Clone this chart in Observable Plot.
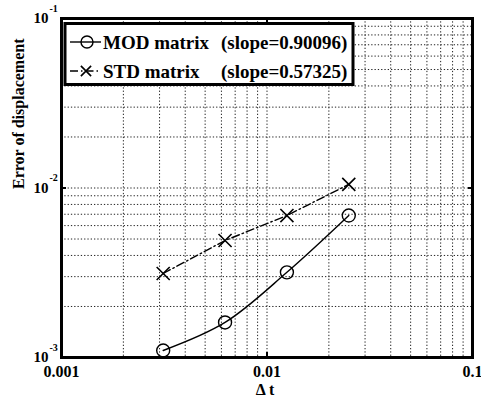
<!DOCTYPE html>
<html>
<head>
<meta charset="utf-8">
<script src="https://cdn.jsdelivr.net/npm/d3@7"></script>
<script src="https://cdn.jsdelivr.net/npm/@observablehq/plot@0.6"></script>
<style>
  html, body { margin: 0; padding: 0; background: #fff; }
  #chart { position: relative; width: 481px; height: 406px; }
  svg text { white-space: pre; }
</style>
</head>
<body>
<div id="chart"></div>
<script>
// ---- data ----
const dt = [0.003125, 0.00625, 0.0125, 0.025];
const modError = [0.00110, 0.00161, 0.00318, 0.00688];
const stdError = [0.00313, 0.00490, 0.00688, 0.01050];
const seriesNames = ["MOD matrix", "STD matrix"];
const seriesSlopes = ["(slope=0.90096)", "(slope=0.57325)"];
const xTicks = [0.001, 0.01, 0.1];
const xTickLabels = ["0.001", "0.01", "0.1"];
const yTicks = [0.001, 0.01, 0.1];
const yTickExps = ["-3", "-2", "-1"];
const xLabel = "\u0394 t";
const yLabel = "Error of displacement";

// log grid positions (1..9 x each decade)
const gridX = [];
[0.001, 0.01].forEach(d => { for (let k = 1; k <= 9; k++) gridX.push(k * d); });
gridX.push(0.1);
const gridY = gridX.slice();

const mod = dt.map((x, i) => ({x, y: modError[i]}));
const std = dt.map((x, i) => ({x, y: stdError[i]}));

const font = "Liberation Serif, Times New Roman, serif";
const dotted = "1.3,2";

const plot = Plot.plot({
  width: 481,
  height: 406,
  marginLeft: 61,
  marginRight: 9,
  marginTop: 18,
  marginBottom: 49,
  style: {fontFamily: font, background: "#fff", overflow: "visible"},
  x: {type: "log", domain: [0.001, 0.1]},
  y: {type: "log", domain: [0.001, 0.1]},
  marks: [
    Plot.ruleX(gridX, {stroke: "#222", strokeWidth: 1, strokeDasharray: dotted}),
    Plot.ruleY(gridY, {stroke: "#222", strokeWidth: 1, strokeDasharray: dotted}),
    // inward ticks
    Plot.axisX({anchor: "bottom", ticks: xTicks, tickSize: -5, strokeWidth: 2, tickFormat: () => "", label: null}),
    Plot.axisX({anchor: "top", ticks: xTicks, tickSize: -5, strokeWidth: 2, tickFormat: () => "", label: null}),
    Plot.axisY({anchor: "left", ticks: yTicks, tickSize: -5, strokeWidth: 2, tickFormat: () => "", label: null}),
    Plot.axisY({anchor: "right", ticks: yTicks, tickSize: -5, strokeWidth: 2, tickFormat: () => "", label: null}),
    Plot.line(mod, {x: "x", y: "y", stroke: "#000", strokeWidth: 1.4, curve: "catmull-rom"}),
    Plot.line(std, {x: "x", y: "y", stroke: "#000", strokeWidth: 1.4, strokeDasharray: "8,3,1.5,3"}),
    Plot.dot(mod, {x: "x", y: "y", r: 6.5, stroke: "#000", strokeWidth: 1.4, fill: "none"}),
    Plot.dot(std, {x: "x", y: "y", r: 6, symbol: "times", stroke: "#000", strokeWidth: 1.6}),
    Plot.frame({stroke: "#000", strokeWidth: 3}),
    // x tick labels
    Plot.text(xTicks, {x: d => d, frameAnchor: "bottom", dy: 19, text: (d, i) => xTickLabels[i],
      fontFamily: font, fontSize: 16, fontWeight: "bold", fill: "#000"}),
    // y tick labels "10" + superscript
    Plot.text(yTicks, {y: d => d, frameAnchor: "left", dx: -13, dy: 0, text: () => "10",
      textAnchor: "end", fontFamily: font, fontSize: 15, fontWeight: "bold", fill: "#000"}),
    Plot.text(yTicks, {y: d => d, frameAnchor: "left", dx: -12, dy: -10, text: (d, i) => yTickExps[i],
      textAnchor: "start", fontFamily: font, fontSize: 10, fontWeight: "bold", fill: "#000"}),
    // axis labels
    Plot.text([xLabel], {frameAnchor: "bottom", dy: 37, dx: -2, text: d => d, fontFamily: font, fontSize: 16, fontWeight: "bold", fill: "#000"}),
    Plot.text([yLabel], {frameAnchor: "left", dx: -43, dy: 1, rotate: -90, text: d => d, fontFamily: font, fontSize: 16, fontWeight: "bold", fill: "#000"})
  ]
});

document.getElementById("chart").appendChild(plot);

// ---- legend (drawn into the same svg) ----
const svg = d3.select(plot);
const lg = svg.append("g").attr("text-anchor", "start");
lg.append("rect").attr("x", 65).attr("y", 23.5).attr("width", 288).attr("height", 61)
  .attr("fill", "#fff").attr("stroke", "#000").attr("stroke-width", 3);
const rows = [
  {y: 42, dash: null, sym: "circle"},
  {y: 71, dash: "8,3,1.5,3", sym: "times"}
];
rows.forEach((r, i) => {
  lg.append("line").attr("x1", 70).attr("x2", 101).attr("y1", r.y).attr("y2", r.y)
    .attr("stroke", "#000").attr("stroke-width", 1.4).attr("stroke-dasharray", r.dash);
  if (r.sym === "circle") {
    lg.append("circle").attr("cx", 87).attr("cy", r.y).attr("r", 6)
      .attr("fill", "none").attr("stroke", "#000").attr("stroke-width", 1.4);
  } else {
    lg.append("path").attr("d", d3.symbol(d3.symbolTimes, 70)())
      .attr("transform", `translate(86,${r.y})`).attr("stroke", "#000").attr("stroke-width", 1.6).attr("fill", "none");
  }
  lg.append("text").attr("x", 103).attr("y", r.y + 6.5).text(seriesNames[i])
    .attr("text-anchor", "start")
    .attr("font-family", font).attr("font-weight", "bold").attr("font-size", 19).attr("fill", "#000");
  lg.append("text").attr("x", 221).attr("y", r.y + 6.5).text(seriesSlopes[i])
    .attr("text-anchor", "start")
    .attr("font-family", font).attr("font-weight", "bold").attr("font-size", 19).attr("fill", "#000");
});
</script>
</body>
</html>
